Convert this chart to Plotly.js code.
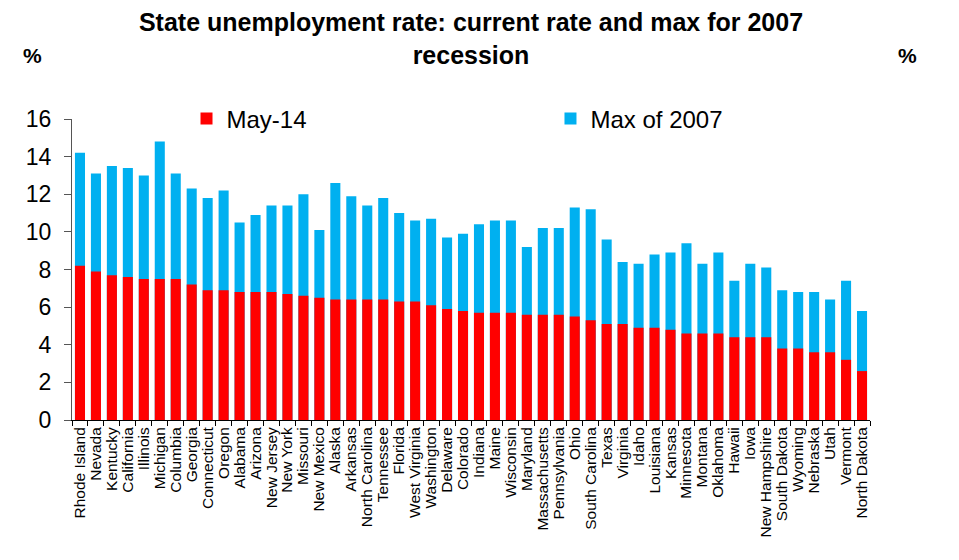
<!DOCTYPE html>
<html>
<head>
<meta charset="utf-8">
<script src="https://cdn.plot.ly/plotly-3.0.1.min.js"></script>
<style>html,body{margin:0;padding:0;background:#fff;}#chart{width:959px;height:560px;}</style>
</head>
<body>
<div id="chart"></div>
<script>
const states = ["Rhode Island","Nevada","Kentucky","California","Illinois","Michigan","Columbia","Georgia","Connecticut","Oregon","Alabama","Arizona","New Jersey","New York","Missouri","New Mexico","Alaska","Arkansas","North Carolina","Tennessee","Florida","West Virginia","Washington","Delaware","Colorado","Indiana","Maine","Wisconsin","Maryland","Massachusetts","Pennsylvania","Ohio","South Carolina","Texas","Virginia","Idaho","Louisiana","Kansas","Minnesota","Montana","Oklahoma","Hawaii","Iowa","New Hampshire","South Dakota","Wyoming","Nebraska","Utah","Vermont","North Dakota"];
const may14 = [8.2,7.9,7.7,7.6,7.5,7.5,7.5,7.2,6.9,6.9,6.8,6.8,6.8,6.7,6.6,6.5,6.4,6.4,6.4,6.4,6.3,6.3,6.1,5.9,5.8,5.7,5.7,5.7,5.6,5.6,5.6,5.5,5.3,5.1,5.1,4.9,4.9,4.8,4.6,4.6,4.6,4.4,4.4,4.4,3.8,3.8,3.6,3.6,3.2,2.6];
const max2007 = [14.2,13.1,13.5,13.4,13.0,14.8,13.1,12.3,11.8,12.2,10.5,10.9,11.4,11.4,12.0,10.1,12.6,11.9,11.4,11.8,11.0,10.6,10.7,9.7,9.9,10.4,10.6,10.6,9.2,10.2,10.2,11.3,11.2,9.6,8.4,8.3,8.8,8.9,9.4,8.3,8.9,7.4,8.3,8.1,6.9,6.8,6.8,6.4,7.4,5.8];
const seriesNames = ["May-14","Max of 2007"];
const leftTicks = [0,2,4,6,8,10,12,14,16];
const rightTicks = [0,2,4,6,8,10,12,14,16,18];

// blue (max) drawn first so red sits in front
const data = [
  {type:'bar', name:seriesNames[1], x:states, y:max2007, marker:{color:'#00B0F0'}, legend:'legend2'},
  {type:'bar', name:seriesNames[0], x:states, y:may14, marker:{color:'#FF0000'}, legend:'legend'}
];

const legendBase = {orientation:'h', y:1.0, yanchor:'middle', xanchor:'left',
  font:{size:24, family:'Liberation Sans, Arial, sans-serif', color:'#000'},
  bgcolor:'rgba(0,0,0,0)', borderwidth:0};

const layout = {
  width:959, height:560,
  margin:{l:72, r:89, t:119, b:140, pad:0},
  paper_bgcolor:'#fff', plot_bgcolor:'#fff',
  font:{family:'Liberation Sans, Arial, sans-serif', color:'#000'},
  title:{text:'<b>State unemployment rate: current rate and max for 2007<br>recession</b>',
         font:{size:25, family:'Liberation Sans, Arial, sans-serif', color:'#000'},
         x:0.5, xanchor:'center', xref:'paper', y:0.944, yanchor:'middle', automargin:false},
  barmode:'overlay', bargap:0.37,
  showlegend:true,
  legend:Object.assign({}, legendBase, {x:0.1435}),
  legend2:Object.assign({}, legendBase, {x:0.5996}),
  xaxis:{type:'category', range:[-0.5, states.length-0.5], tickmode:'array', tickvals:states,
         tickangle:-90, tickfont:{size:15.5}, showline:true, linecolor:'#000', linewidth:1,
         ticks:'outside', tickson:'boundaries', ticklen:5, tickcolor:'#000', showgrid:false, zeroline:false},
  yaxis:{range:[0,16], tickvals:leftTicks, ticktext:leftTicks.map(String), showline:true, linecolor:'#555', linewidth:1,
         ticks:'outside', ticklen:7, tickcolor:'#555', tickfont:{size:23}, showgrid:false, zeroline:false, ticklabelstandoff:8},
  yaxis2:{range:[0,18], tickvals:rightTicks, ticktext:rightTicks.map(String), overlaying:'y', side:'right', showline:true,
          linecolor:'#555', linewidth:1, ticks:'outside', ticklen:7, tickcolor:'#555', tickfont:{size:23},
          showgrid:false, zeroline:false, ticklabelstandoff:6},
  annotations:[
    {text:'<b>%</b>', xref:'paper', yref:'paper', x:-0.049, y:1.212, xanchor:'center', yanchor:'middle', showarrow:false, font:{size:21}},
    {text:'<b>%</b>', xref:'paper', yref:'paper', x:1.047, y:1.212, xanchor:'center', yanchor:'middle', showarrow:false, font:{size:21}}
  ]
};

Plotly.newPlot('chart', data, layout, {staticPlot:true});
</script>
</body>
</html>
